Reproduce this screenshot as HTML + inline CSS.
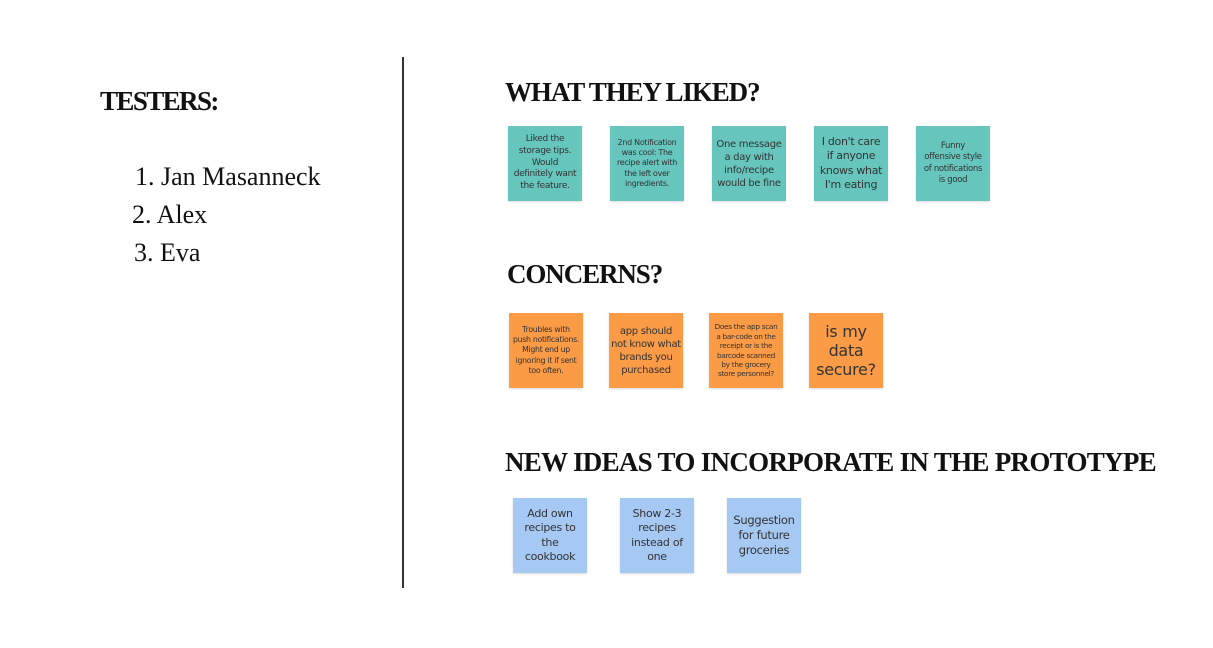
<!DOCTYPE html>
<html><head><meta charset="utf-8"><style>
body{margin:0;width:1213px;height:648px;background:#fff;position:relative;overflow:hidden;font-family:"Liberation Serif",serif;color:#111}
.a{position:absolute;white-space:nowrap}
.h{font-weight:bold;font-size:27px;letter-spacing:-1.1px;line-height:1}
.li{font-size:26px;line-height:1}
.s{position:absolute;width:74px;height:75px;display:flex;align-items:center;justify-content:center;text-align:center;font-family:"DejaVu Sans","Liberation Sans",sans-serif;color:#333;box-shadow:0 1px 2px rgba(0,0,0,.15);line-height:1.3;letter-spacing:-0.3px}
.t{background:#66c6be}.o{background:#fb9b45}.b{background:#a6c9f3}
</style></head><body>
<div class="a" style="left:402px;top:57px;width:1.5px;height:531px;background:#333"></div>
<div class="a h" style="left:100px;top:88px;letter-spacing:-1.6px">TESTERS:</div>
<div class="a li" style="left:135px;top:164px">1. Jan Masanneck</div>
<div class="a li" style="left:132px;top:202px">2. Alex</div>
<div class="a li" style="left:134px;top:240px">3. Eva</div>

<div class="a h" style="left:505px;top:79px">WHAT THEY LIKED?</div>
<div class="a h" style="left:507px;top:261px">CONCERNS?</div>
<div class="a h" style="left:505px;top:449px;letter-spacing:-0.7px">NEW IDEAS TO INCORPORATE IN THE PROTOTYPE</div>

<div class="s t" style="left:508px;top:126px;font-size:9px">Liked the<br>storage tips.<br>Would<br>definitely want<br>the feature.</div>
<div class="s t" style="left:610px;top:126px;font-size:8px">2nd Notification<br>was cool: The<br>recipe alert with<br>the left over<br>ingredients.</div>
<div class="s t" style="left:712px;top:126px;font-size:10px">One message<br>a day with<br>info/recipe<br>would be fine</div>
<div class="s t" style="left:814px;top:126px;font-size:11px">I don't care<br>if anyone<br>knows what<br>I'm eating</div>
<div class="s t" style="left:916px;top:126px;font-size:8.5px">Funny<br>offensive style<br>of notifications<br>is good</div>

<div class="s o" style="left:509px;top:313px;font-size:7.8px">Troubles with<br>push notifications.<br>Might end up<br>ignoring it if sent<br>too often.</div>
<div class="s o" style="left:609px;top:313px;font-size:10px">app should<br>not know what<br>brands you<br>purchased</div>
<div class="s o" style="left:709px;top:313px;font-size:7.3px">Does the app scan<br>a bar-code on the<br>receipt or is the<br>barcode scanned<br>by the grocery<br>store personnel?</div>
<div class="s o" style="left:809px;top:313px;font-size:16px;line-height:1.2">is my<br>data<br>secure?</div>

<div class="s b" style="left:513px;top:498px;font-size:11px">Add own<br>recipes to<br>the<br>cookbook</div>
<div class="s b" style="left:620px;top:498px;font-size:11px">Show 2-3<br>recipes<br>instead of<br>one</div>
<div class="s b" style="left:727px;top:498px;font-size:11.5px">Suggestion<br>for future<br>groceries</div>
</body></html>
